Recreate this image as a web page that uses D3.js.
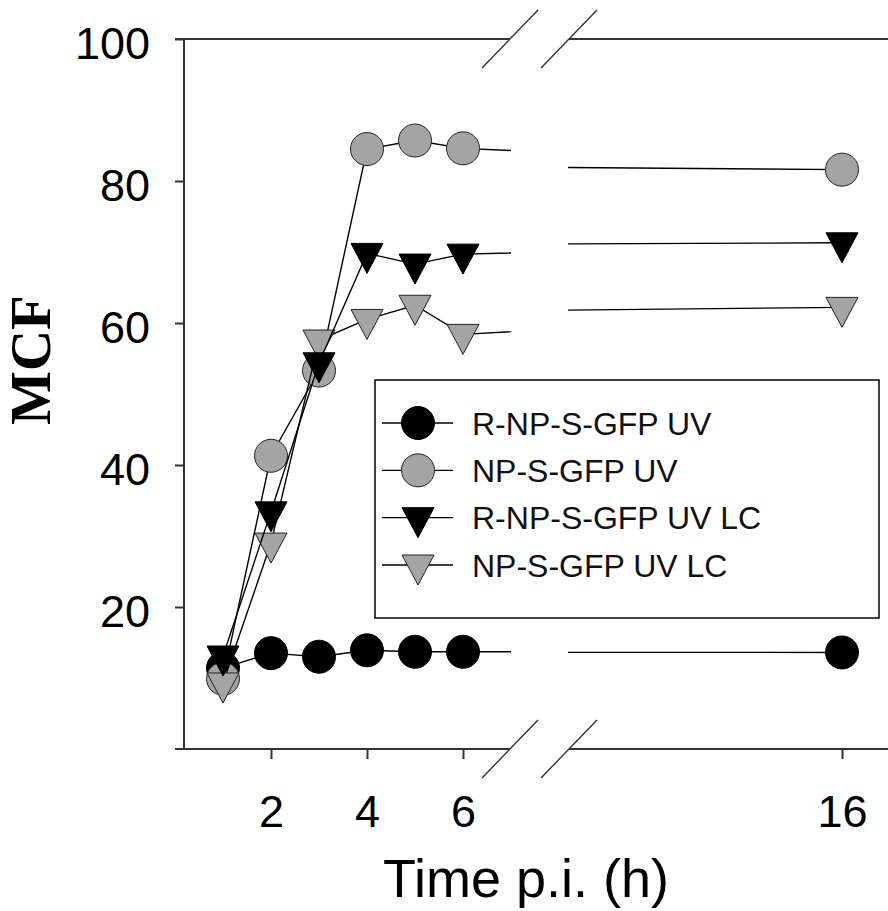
<!DOCTYPE html>
<meta charset="utf-8">
<head>
	<title>MCF over time p.i.</title>
	<script type="text/javascript" src="https://d3js.org/d3.v7.min.js"></script>
</head>
<style>
	body { margin: 0; background: #fff; }
	.tick text { font-family: "Liberation Sans", Arial, sans-serif; font-size: 45px; fill: #000; }
	.tick line { stroke: #333; stroke-width: 2; }
	.legend text { font-family: "Liberation Sans", Arial, sans-serif; font-size: 32px; fill: #111; }
</style>
<body>
<div id="chart"></div>
<script>
	// data
	var times = [1, 2, 3, 4, 5, 6, 16];
	var rnpUV = [11.4, 13.5, 13.0, 13.9, 13.7, 13.7, 13.6];
	var npUV = [9.9, 41.3, 53.3, 84.5, 85.7, 84.6, 81.6];
	var rnpUVLC = [13.1, 33.4, 54.4, 69.8, 68.3, 69.7, 71.3];
	var npUVLC = [9.3, 29.0, 57.6, 60.5, 62.5, 58.4, 62.2];
	var seriesNames = ["R-NP-S-GFP UV", "NP-S-GFP UV", "R-NP-S-GFP UV LC", "NP-S-GFP UV LC"];
	var yTicks = [20, 40, 60, 80, 100];
	var xTicksLeft = [2, 4, 6];
	var xTicksRight = [16];

	var w = 888, h = 911;
	var grey = "#a4a4a4";

	// series in drawing order (back to front)
	var series = [
		{name: seriesNames[0], values: rnpUV, shape: "circle", fill: "#000"},
		{name: seriesNames[1], values: npUV, shape: "circle", fill: grey},
		{name: seriesNames[3], values: npUVLC, shape: "tri", fill: grey},
		{name: seriesNames[2], values: rnpUVLC, shape: "tri", fill: "#000"}
	];

	var svg = d3.select("#chart").append("svg")
		.attr("width", w).attr("height", h)
		.style("background", "#fff");

	// broken x axis: two panels with their own scales
	var xLeft = d3.scaleLinear().domain([0.2, 7]).range([184.6, 511]);
	var xRight = d3.scaleLinear().domain([15, 16]).range([568, 842]);
	var y = d3.scaleLinear().domain([0, 100]).range([749, 39]);

	var panels = [
		{id: "clipL", x: xLeft, x0: 184, x1: 511, lo: 0, hi: 7},
		{id: "clipR", x: xRight, x0: 568, x1: 900, lo: 15, hi: 17}
	];

	var defs = svg.append("defs");
	panels.forEach(function(p){
		defs.append("clipPath").attr("id", p.id)
			.append("rect").attr("x", p.x0).attr("y", 0).attr("width", p.x1 - p.x0).attr("height", h);
	});

	// axes
	var yAxis = d3.axisLeft(y).tickValues(yTicks).tickSize(9).tickPadding(25).tickFormat(d3.format("d"));
	var gy = svg.append("g").attr("transform", "translate(184,0)").call(yAxis);
	gy.select(".domain").remove();
	gy.selectAll(".tick text").attr("dy", "0.43em");

	var gxl = svg.append("g").attr("transform", "translate(0,749)")
		.call(d3.axisBottom(xLeft).tickValues(xTicksLeft).tickSize(10).tickPadding(36).tickFormat(d3.format("d")));
	var gxr = svg.append("g").attr("transform", "translate(0,749)")
		.call(d3.axisBottom(xRight).tickValues(xTicksRight).tickSize(10).tickPadding(36).tickFormat(d3.format("d")));
	gxl.select(".domain").remove();
	gxr.select(".domain").remove();

	// frame lines: y axis, bottom and top, split at the break
	var frame = svg.append("g").attr("stroke", "#333").attr("stroke-width", 2).attr("fill", "none");
	frame.append("line").attr("x1", 184).attr("x2", 184).attr("y1", y(100)).attr("y2", y(0));
	[y(0), y(100)].forEach(function(yy){
		frame.append("line").attr("x1", 175).attr("x2", 510).attr("y1", yy).attr("y2", yy);
		frame.append("line").attr("x1", 569).attr("x2", 900).attr("y1", yy).attr("y2", yy);
	});

	// break marks
	var brk = svg.append("g").attr("stroke", "#333").attr("stroke-width", 1.4);
	[y(0), y(100)].forEach(function(yy){
		[510, 569].forEach(function(xx){
			brk.append("line").attr("x1", xx - 28).attr("y1", yy + 29).attr("x2", xx + 28).attr("y2", yy - 29);
		});
	});

	// marker path for downward triangle centred on its centroid
	var triPath = "M-16,-10L16,-10L0,20Z";

	function drawMarker(g, shape, fill, cx, cy){
		if (shape == "circle") {
			g.append("circle").attr("cx", cx).attr("cy", cy).attr("r", 16.5)
				.attr("fill", fill).attr("stroke", fill == "#000" ? "#000" : "#222").attr("stroke-width", 1);
		} else {
			g.append("path").attr("d", triPath).attr("transform", "translate(" + cx + "," + cy + ")")
				.attr("fill", fill).attr("stroke", fill == "#000" ? "#000" : "#222").attr("stroke-width", 1);
		}
	}

	var plot = svg.append("g");
	series.forEach(function(s){
		var pts = times.map(function(t, i){ return [t, s.values[i]]; });
		panels.forEach(function(p){
			var line = d3.line().x(function(d){ return p.x(d[0]); }).y(function(d){ return y(d[1]); });
			plot.append("path").datum(pts)
				.attr("d", line)
				.attr("clip-path", "url(#" + p.id + ")")
				.attr("fill", "none").attr("stroke", "#000").attr("stroke-width", 1.4);
			var g = plot.append("g");
			pts.filter(function(d){ return d[0] >= p.lo && d[0] <= p.hi; }).forEach(function(d){
				drawMarker(g, s.shape, s.fill, p.x(d[0]), y(d[1]));
			});
		});
	});

	// legend
	var legend = svg.append("g").attr("class", "legend");
	legend.append("rect").attr("x", 375).attr("y", 380).attr("width", 504).attr("height", 238)
		.attr("fill", "#fff").attr("stroke", "#111").attr("stroke-width", 1.6);
	var legendItems = [series[0], series[1], series[3], series[2]];
	var rowY = d3.scalePoint().domain(legendItems.map(function(d){ return d.name; })).range([423, 565]);
	legendItems.forEach(function(s){
		var ry = rowY(s.name);
		legend.append("line").attr("x1", 382).attr("x2", 453).attr("y1", ry).attr("y2", ry)
			.attr("stroke", "#000").attr("stroke-width", 1.4);
		drawMarker(legend, s.shape, s.fill, 418, ry);
		legend.append("text").attr("x", 472).attr("y", ry).attr("dy", "0.36em").text(s.name);
	});

	// axis titles
	svg.append("text")
		.attr("x", 526).attr("y", 897)
		.attr("text-anchor", "middle")
		.style("font-family", "'Liberation Sans', Arial, sans-serif")
		.style("font-size", "54px")
		.text("Time p.i. (h)");

	svg.append("text")
		.attr("transform", "translate(50,360) rotate(-90)")
		.attr("text-anchor", "middle")
		.style("font-family", "'Liberation Serif', 'Times New Roman', serif")
		.style("font-weight", "bold")
		.style("font-size", "57px")
		.text("MCF");
</script>
</body>
